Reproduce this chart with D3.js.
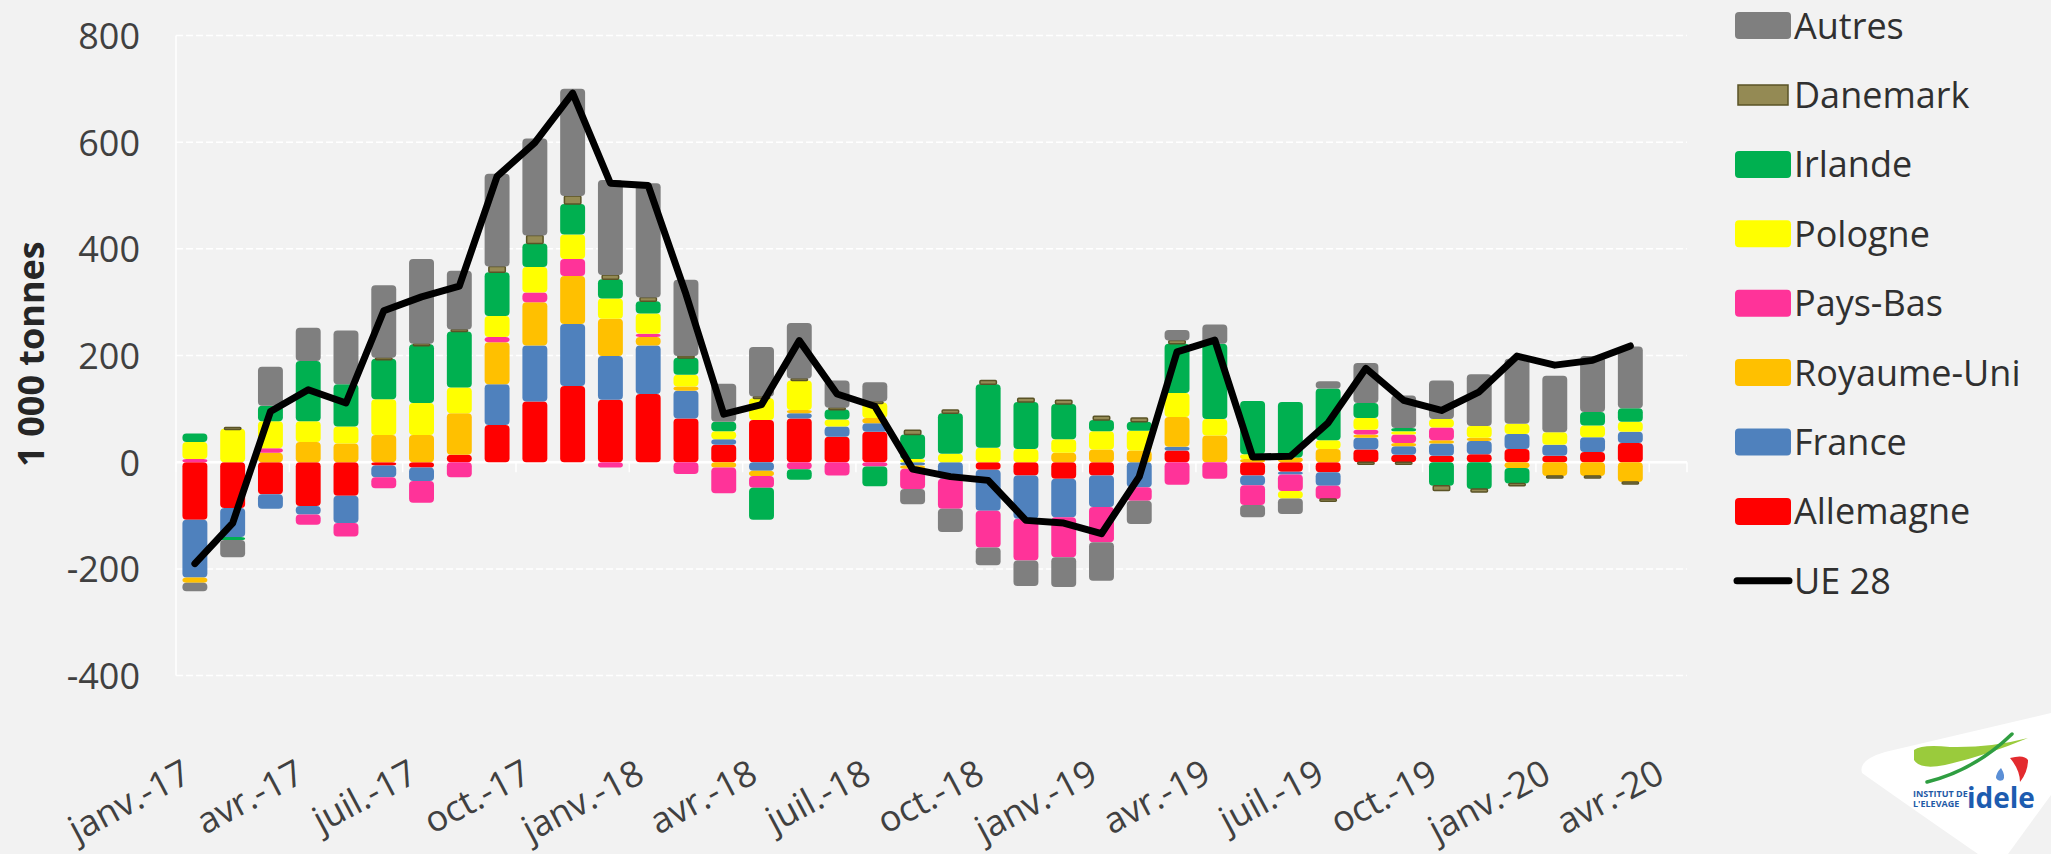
<!DOCTYPE html>
<html>
<head>
<meta charset="utf-8">
<script src="https://cdn.jsdelivr.net/npm/d3@7/dist/d3.min.js"></script>
<style>
  body { margin: 0; background: #f2f2f2; }
  text { font-family: "Century Gothic", "Open Sans", sans-serif; }
</style>
</head>
<body>
<script>
var months = ["janv.-17","févr.-17","mars-17","avr.-17","mai-17","juin-17","juil.-17","août-17","sept.-17","oct.-17","nov.-17","déc.-17",
  "janv.-18","févr.-18","mars-18","avr.-18","mai-18","juin-18","juil.-18","août-18","sept.-18","oct.-18","nov.-18","déc.-18",
  "janv.-19","févr.-19","mars-19","avr.-19","mai-19","juin-19","juil.-19","août-19","sept.-19","oct.-19","nov.-19","déc.-19",
  "janv.-20","févr.-20","mars-20","avr.-20"];

var allemagne = [-108,-86,-60,-82,-63,-6,-10,14,70,114,143,117,128,82,33,79,82,48,57,0,0,-14,-25,-31,-25,0,22,0,-25,-18,-19,24,14,12,15,25,12,19,36];
var france    = [-108,-54,-27,-16,-51,-22,-25,0,76,105,116,82,91,52,10,-16,10,19,16,-6,-31,-77,-81,-72,-59,-47,7,0,-18,-5,-25,22,16,23,25,28,21,28,21];
var royaumeUni= [-10,0,18,38,35,51,51,78,79,81,90,70,16,8,-10,-10,6,0,10,-6,0,0,0,18,24,22,56,50,6,9,25,6,6,6,6,-11,-26,-26,-37];
var paysBas   = [6,0,8,-19,-25,-21,-41,-28,10,18,32,-10,6,-22,-48,-22,-13,-25,-8,-38,-56,-69,-78,-75,-66,-25,-42,-31,-37,-31,-25,9,16,24,0,0,0,0,0];
var pologne   = [32,63,51,39,32,67,60,48,39,48,46,38,38,22,15,41,55,13,29,6,16,27,25,25,34,37,45,31,9,-14,16,22,6,16,22,19,23,22,19];
var irlande   = [16,-6,29,113,79,76,110,105,82,44,57,36,23,32,18,-60,-20,19,-37,46,76,119,88,66,21,17,92,141,100,104,97,28,6,-44,-50,-29,0,25,25];
var danemark  = [0,2,0,0,0,2,1,4,11,15,15,8,7,3,0,3,4,3,2,8,6,7,7,7,7,7,6,0,0,0,-4,-4,-4,-9,-6,-4,-3,-3,-4];
var autres    = [-16,-32,73,62,101,136,159,110,174,182,201,178,214,143,71,93,104,51,36,-29,-44,-33,-48,-56,-72,-44,20,36,-23,-29,14,75,61,72,97,122,106,105,116];
var ue28      = [-190,-114,95,136,111,284,310,330,536,599,692,523,519,315,90,108,228,128,105,-13,-27,-34,-109,-114,-134,-27,207,229,10,11,74,176,116,97,132,199,182,191,218];

var yTicks = [-400,-200,0,200,400,600,800];

var series = [
  {key: "Allemagne", values: allemagne, color: "#ff0000"},
  {key: "France", values: france, color: "#4f81bd"},
  {key: "Royaume-Uni", values: royaumeUni, color: "#ffc000"},
  {key: "Pays-Bas", values: paysBas, color: "#ff3399"},
  {key: "Pologne", values: pologne, color: "#ffff00"},
  {key: "Irlande", values: irlande, color: "#00b050"},
  {key: "Danemark", values: danemark, color: "#948a54"},
  {key: "Autres", values: autres, color: "#7f7f7f"}
];

var w = 2051, h = 854;

var svg = d3.select("body").append("svg")
    .attr("width", w)
    .attr("height", h);

svg.append("rect").attr("width", w).attr("height", h).attr("fill", "#f2f2f2");

var x = d3.scaleBand()
    .domain(months)
    .range([176, 1687])
    .paddingInner(0.34)
    .paddingOuter(0.17);

var y = d3.scaleLinear()
    .domain([-400, 800])
    .range([675.6, 35.5]);

// rows for the stack, one per month that has data
var rows = ue28.map(function(v, i) {
  var r = {month: months[i]};
  series.forEach(function(s) { r[s.key] = s.values[i]; });
  return r;
});

var stack = d3.stack()
    .keys(series.map(function(s) { return s.key; }))
    .offset(d3.stackOffsetDiverging);

var layers = stack(rows);

// grid
svg.append("g").selectAll("line.grid")
    .data(yTicks.filter(function(d) { return d != 0; }))
    .enter().append("line")
    .attr("x1", 176).attr("x2", 1687)
    .attr("y1", function(d) { return y(d); })
    .attr("y2", function(d) { return y(d); })
    .attr("stroke", "#ffffff")
    .attr("stroke-width", 1.5)
    .attr("stroke-dasharray", "7,3");

svg.append("line")
    .attr("x1", 176).attr("x2", 176)
    .attr("y1", y(800)).attr("y2", y(-400))
    .attr("stroke", "#ffffff").attr("stroke-width", 1.5);

svg.append("line")
    .attr("x1", 176).attr("x2", 1687)
    .attr("y1", y(0)).attr("y2", y(0))
    .attr("stroke", "#ffffff").attr("stroke-width", 2.5);

svg.append("g").selectAll("line.tick")
    .data(months.filter(function(d, i) { return i % 3 == 0; }).concat([null]))
    .enter().append("line")
    .attr("x1", function(d) { return d ? x(d) - x.step() * x.paddingInner() / 2 : 1687; })
    .attr("x2", function(d) { return d ? x(d) - x.step() * x.paddingInner() / 2 : 1687; })
    .attr("y1", y(0)).attr("y2", y(0) + 10)
    .attr("stroke", "#ffffff").attr("stroke-width", 1.5);

// bars
var colorOf = {};
series.forEach(function(s) { colorOf[s.key] = s.color; });

svg.append("g").selectAll("g.layer")
    .data(layers)
    .enter().append("g")
    .attr("class", "layer")
    .each(function(layer) {
      var isDk = layer.key == "Danemark";
      d3.select(this).selectAll("rect")
        .data(layer.filter(function(d) { return d[1] - d[0] != 0; }))
        .enter().append("rect")
        .attr("x", function(d) { return x(d.data.month) + (isDk ? x.bandwidth() * 0.17 : 0); })
        .attr("width", isDk ? x.bandwidth() * 0.66 : x.bandwidth())
        .attr("y", function(d) { return y(Math.max(d[0], d[1])); })
        .attr("height", function(d) { return Math.max(2, Math.abs(y(d[0]) - y(d[1]))); })
        .attr("rx", isDk ? 1 : 4)
        .attr("fill", colorOf[layer.key])
        .attr("stroke", isDk ? "#5a5326" : "none")
        .attr("stroke-width", isDk ? 1.5 : 0);
    });

// UE 28 line
var line = d3.line()
    .x(function(d, i) { return x(months[i]) + x.bandwidth() / 2; })
    .y(function(d) { return y(d); });

svg.append("path")
    .datum(ue28)
    .attr("d", line)
    .attr("fill", "none")
    .attr("stroke", "#000000")
    .attr("stroke-width", 7)
    .attr("stroke-linejoin", "round")
    .attr("stroke-linecap", "round");

// axes
var yAxis = svg.append("g")
    .attr("transform", "translate(140,0)")
    .call(d3.axisLeft(y).tickValues(yTicks).tickSize(0).tickFormat(function(d) { return String(d); }));
yAxis.select(".domain").remove();
yAxis.selectAll("text")
    .attr("x", 0)
    .attr("dy", "0.36em")
    .attr("fill", "#404040")
    .style("font-size", "36px");

var xAxis = svg.append("g")
    .attr("transform", "translate(0,780)")
    .call(d3.axisBottom(x).tickValues(months.filter(function(d, i) { return i % 3 == 0; })).tickSize(0));
xAxis.select(".domain").remove();
xAxis.selectAll("text")
    .attr("x", -2)
    .attr("y", 0)
    .attr("dy", 0)
    .attr("text-anchor", "end")
    .attr("transform", "rotate(-28)")
    .attr("fill", "#404040")
    .style("font-size", "36px");

svg.append("text")
    .attr("transform", "translate(44,354) rotate(-90)")
    .attr("text-anchor", "middle")
    .attr("fill", "#262626")
    .style("font-size", "36px")
    .style("font-weight", "bold")
    .text("1 000 tonnes");

// legend
var legendItems = series.slice().reverse();
var legend = svg.append("g");
var rowY = function(i) { return 25.6 + i * 69.4; };

legend.selectAll("rect")
    .data(legendItems)
    .enter().append("rect")
    .attr("x", function(d) { return d.key == "Danemark" ? 1738 : 1735; })
    .attr("y", function(d, i) { return rowY(i) - (d.key == "Danemark" ? 10 : 13.5); })
    .attr("width", function(d) { return d.key == "Danemark" ? 50 : 56; })
    .attr("height", function(d) { return d.key == "Danemark" ? 20 : 27; })
    .attr("rx", function(d) { return d.key == "Danemark" ? 0 : 4; })
    .attr("fill", function(d) { return d.color; })
    .attr("stroke", function(d) { return d.key == "Danemark" ? "#5a5326" : "none"; })
    .attr("stroke-width", 1.5);

legend.append("line")
    .attr("x1", 1737).attr("x2", 1789)
    .attr("y1", rowY(8)).attr("y2", rowY(8))
    .attr("stroke", "#000").attr("stroke-width", 7).attr("stroke-linecap", "round");

legend.selectAll("text")
    .data(legendItems.map(function(d) { return d.key; }).concat(["UE 28"]))
    .enter().append("text")
    .attr("x", 1794)
    .attr("y", function(d, i) { return rowY(i); })
    .attr("dy", "0.36em")
    .attr("fill", "#303030")
    .style("font-size", "36px")
    .text(function(d) { return d; });

// logo
var logo = svg.append("g");
logo.append("path")
    .attr("d", "M1862,773 Q1858,760 1885,752 L2051,713 L2051,795 L2008,854 L1978,854 Q1900,800 1862,773 Z")
    .attr("fill", "#ffffff");
logo.append("path")
    .attr("d", "M1914,750 Q1922,744 1950,747 Q1990,748 2028,738 Q1985,756 1945,765 Q1920,770 1914,760 Z")
    .attr("fill", "#9acb3c");
logo.append("path")
    .attr("d", "M1927,782 Q1975,770 2012,734")
    .attr("fill", "none")
    .attr("stroke", "#2f9e41")
    .attr("stroke-width", 3.5)
    .attr("stroke-linecap", "round");
logo.append("path")
    .attr("d", "M2010,758 Q2024,754 2028,760 Q2028,772 2020,782 Q2020,770 2010,758 Z")
    .attr("fill", "#e32b2f");
logo.append("path")
    .attr("d", "M2001,768 Q2006,776 2003,780 Q1998,782 1996,778 Q1996,773 2001,768 Z")
    .attr("fill", "#5b8fd6");
logo.append("text")
    .attr("x", 1913).attr("y", 797)
    .attr("fill", "#1f5aa6")
    .style("font-family", "'Open Sans', sans-serif")
    .style("font-size", "9px").style("font-weight", "bold")
    .text("INSTITUT DE");
logo.append("text")
    .attr("x", 1913).attr("y", 807)
    .attr("fill", "#1f5aa6")
    .style("font-family", "'Open Sans', sans-serif")
    .style("font-size", "9px").style("font-weight", "bold")
    .text("L'ELEVAGE");
logo.append("text")
    .attr("x", 1967).attr("y", 808)
    .attr("fill", "#1d5cb0")
    .style("font-family", "'Open Sans', sans-serif")
    .style("font-size", "28px").style("font-weight", "bold")
    .text("idele");
</script>
</body>
</html>
